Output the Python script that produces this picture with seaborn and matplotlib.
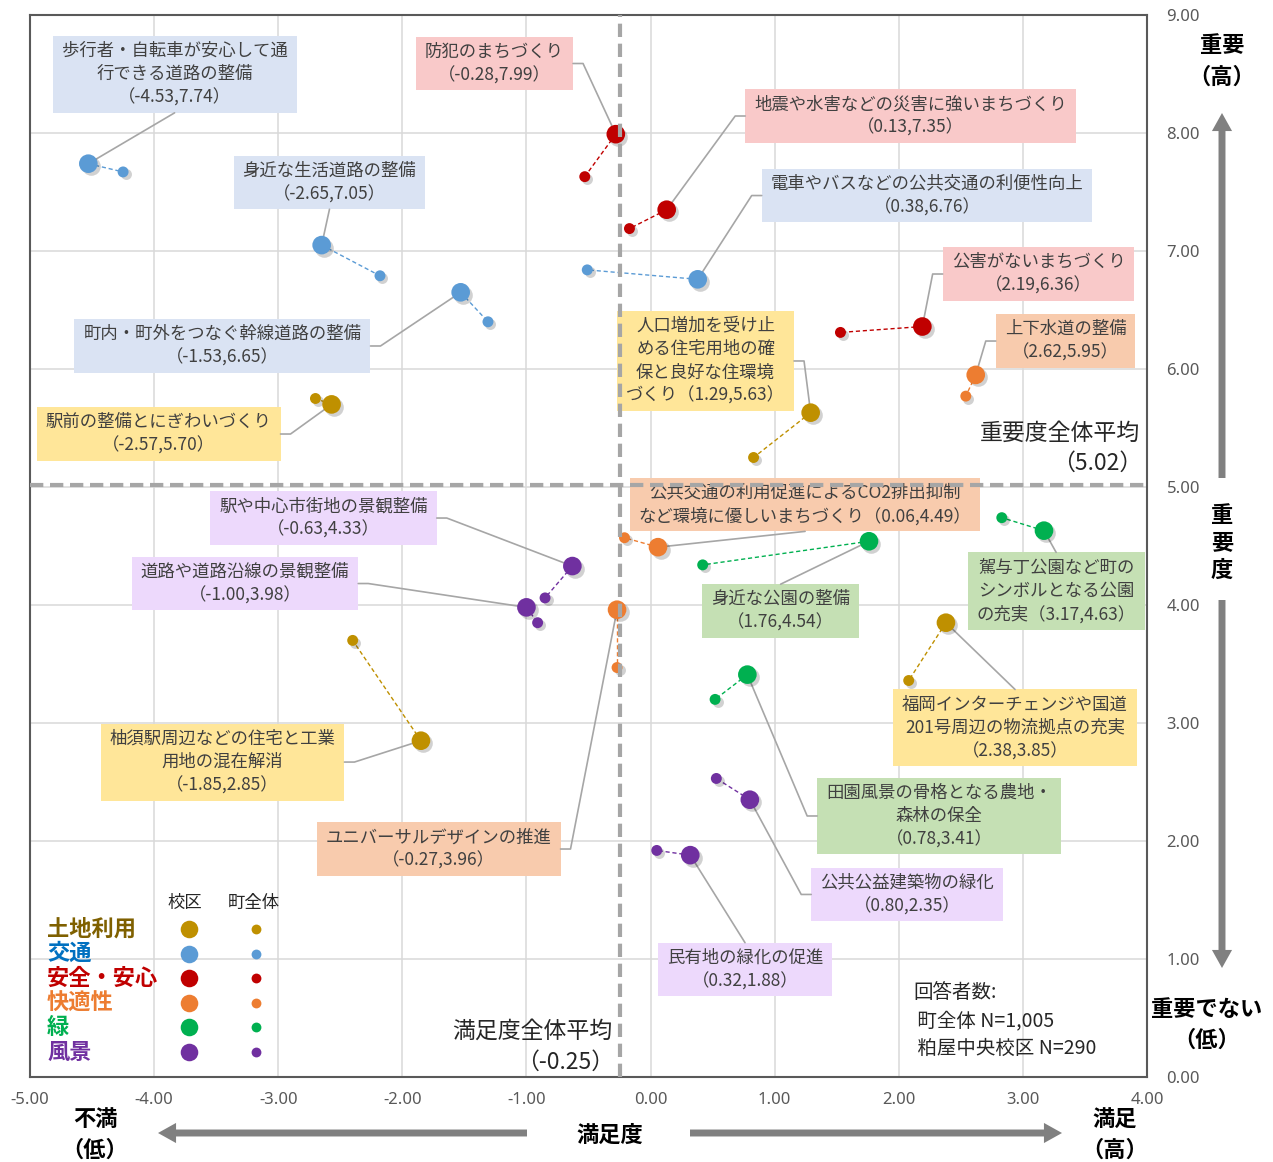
import matplotlib
matplotlib.use('Agg')
import matplotlib.pyplot as plt
import seaborn as sns
import numpy as np
import pandas as pd
from matplotlib import transforms
from matplotlib.patches import Rectangle, FancyArrowPatch
from matplotlib.ticker import StrMethodFormatter

# ---------------- data ----------------
categories = ['土地利用', '交通', '安全・安心', '快適性', '緑', '風景']
cat_colors = ['#BF9000', '#5B9BD5', '#C00000', '#ED7D31', '#00B050', '#7030A0']
legend_text_colors = ['#7F6000', '#0070C0', '#C00000', '#ED7D31', '#00B050', '#7030A0']
box_colors = ['#FFE699', '#DAE3F3', '#F9C9C9', '#F8CBAD', '#C5E0B4', '#EDD9FC']

item_names = [
    '歩行者・自転車が安心して通\n行できる道路の整備',
    '防犯のまちづくり',
    '地震や水害などの災害に強いまちづくり',
    '身近な生活道路の整備',
    '電車やバスなどの公共交通の利便性向上',
    '公害がないまちづくり',
    '町内・町外をつなぐ幹線道路の整備',
    '上下水道の整備',
    '人口増加を受け止\nめる住宅用地の確\n保と良好な住環境\nづくり',
    '駅前の整備とにぎわいづくり',
    '公共交通の利用促進によるCO2排出抑制\nなど環境に優しいまちづくり',
    '駅や中心市街地の景観整備',
    '道路や道路沿線の景観整備',
    '身近な公園の整備',
    '駕与丁公園など町の\nシンボルとなる公園\nの充実',
    'ユニバーサルデザインの推進',
    '福岡インターチェンジや国道\n201号周辺の物流拠点の充実',
    '柚須駅周辺などの住宅と工業\n用地の混在解消',
    '田園風景の骨格となる農地・\n森林の保全',
    '公共公益建築物の緑化',
    '民有地の緑化の促進',
]
coord_on_new_line = [True, True, True, True, True, True, True, True, False, True, False,
                     True, True, True, False, True, True, True, True, True, True]
item_cats = ['交通', '安全・安心', '安全・安心', '交通', '交通', '安全・安心', '交通', '快適性',
             '土地利用', '土地利用', '快適性', '風景', '風景', '緑', '緑', '快適性',
             '土地利用', '土地利用', '緑', '風景', '風景']
school_x = [-4.53, -0.28, 0.13, -2.65, 0.38, 2.19, -1.53, 2.62, 1.29, -2.57, 0.06,
            -0.63, -1.00, 1.76, 3.17, -0.27, 2.38, -1.85, 0.78, 0.80, 0.32]
school_y = [7.74, 7.99, 7.35, 7.05, 6.76, 6.36, 6.65, 5.95, 5.63, 5.70, 4.49,
            4.33, 3.98, 4.54, 4.63, 3.96, 3.85, 2.85, 3.41, 2.35, 1.88]
town_x = [-4.25, -0.53, -0.17, -2.18, -0.51, 1.53, -1.31, 2.54, 0.83, -2.70, -0.21,
          -0.85, -0.91, 0.42, 2.83, -0.27, 2.08, -2.40, 0.52, 0.53, 0.05]
town_y = [7.67, 7.63, 7.19, 6.79, 6.84, 6.31, 6.40, 5.77, 5.25, 5.75, 4.57,
          4.06, 3.85, 4.34, 4.74, 3.47, 3.36, 3.70, 3.20, 2.53, 1.92]
avg_x = -0.25
avg_y = 5.02
x_ticks = [-5, -4, -3, -2, -1, 0, 1, 2, 3, 4]
y_ticks = [0, 1, 2, 3, 4, 5, 6, 7, 8, 9]
respondents = ['回答者数:', ' 町全体 N=1,005', ' 粕屋中央校区 N=290']

# ---------------- layout (label boxes) ----------------
label_cx = [-3.835, -1.257, 2.095, -2.587, 2.228, 3.126, -3.449, 3.344, 0.443, -3.964, 1.245,
            -2.635, -3.268, 1.048, 3.268, -1.708, 2.937, -3.449, 2.325, 2.067, 0.761]
label_cy = [8.497, 8.589, 8.144, 7.581, 7.470, 6.805, 6.195, 6.237, 6.068, 5.449, 4.852,
            4.737, 4.182, 3.949, 4.119, 1.932, 2.958, 2.669, 2.212, 1.547, 0.911]
label_anchor = ['B', 'R', 'L', 'B', 'L', 'L', 'R', 'L', 'R', 'R', 'B',
                'R', 'R', 'T', 'T', 'R', 'T', 'R', 'L', 'L', 'T']

W, H = 1273, 1162
sns.set_theme(style='white')
plt.rcParams['font.family'] = ['Noto Sans CJK JP', 'DejaVu Sans']
plt.rcParams['axes.unicode_minus'] = False

fig = plt.figure(figsize=(W / 100, H / 100), dpi=100)
fig.patch.set_facecolor('white')
ax = fig.add_axes([30 / W, 85 / H, 1117 / W, 1062 / H])
ax.set_facecolor('white')

cmap = dict(zip(categories, cat_colors))
bmap = dict(zip(categories, box_colors))

df = pd.DataFrame({'name': item_names, 'group': item_cats,
                   'sx': school_x, 'sy': school_y, 'tx': town_x, 'ty': town_y})

# connecting dashed lines
for _, r in df.iterrows():
    ax.plot([r['sx'], r['tx']], [r['sy'], r['ty']], ls=(0, (3, 2)), lw=1.0,
            color=cmap[r['group']], zorder=4)

# shadows
shadow = transforms.offset_copy(ax.transData, fig=fig, x=2.5, y=-2.5, units='dots')
ax.scatter(df['sx'], df['sy'], s=180, color='#000000', alpha=0.18, lw=0, transform=shadow, zorder=4.5)
ax.scatter(df['tx'], df['ty'], s=62, color='#000000', alpha=0.18, lw=0, transform=shadow, zorder=4.5)

sns.scatterplot(data=df, x='sx', y='sy', hue='group', palette=cmap, s=180, edgecolor='none',
                legend=False, ax=ax, zorder=5)
sns.scatterplot(data=df, x='tx', y='ty', hue='group', palette=cmap, s=62, edgecolor='none',
                legend=False, ax=ax, zorder=5)
ax.set_xlabel('')
ax.set_ylabel('')

ax.set_xlim(-5, 4)
ax.set_ylim(0, 9)
ax.set_xticks(x_ticks)
ax.set_yticks(y_ticks)
ax.xaxis.set_major_formatter(StrMethodFormatter('{x:.2f}'))
ax.yaxis.set_major_formatter(StrMethodFormatter('{x:.2f}'))
ax.yaxis.tick_right()
ax.tick_params(axis='x', length=0, pad=11, labelsize=12, labelcolor='#595959')
ax.tick_params(axis='y', length=0, pad=14, labelsize=12, labelcolor='#595959')
for lab in ax.get_xticklabels() + ax.get_yticklabels():
    lab.set_family(['Noto Sans', 'DejaVu Sans'])
ax.grid(True, color='#D9D9D9', lw=1.1)
ax.set_axisbelow(True)
for sp in ax.spines.values():
    sp.set_color('#595959')
    sp.set_linewidth(1.5)

# labels
texts = []
for i, r in df.iterrows():
    sep = '\n' if coord_on_new_line[i] else ''
    s = f'{r["name"]}{sep}（{r["sx"]:.2f},{r["sy"]:.2f}）'
    t = ax.text(label_cx[i], label_cy[i], s, ha='center', va='center', multialignment='center',
                fontsize=12.5, color='#404040', linespacing=1.38, zorder=3.5)
    texts.append(t)

fig.canvas.draw()
renderer = fig.canvas.get_renderer()
inv = ax.transData.inverted()
padx, pady = 9, 6
for i, t in enumerate(texts):
    bb = t.get_window_extent(renderer)
    x0, y0, x1, y1 = bb.x0 - padx, bb.y0 - pady, bb.x1 + padx, bb.y1 + pady
    (dx0, dy0), (dx1, dy1) = inv.transform([(x0, y0), (x1, y1)])
    ax.add_patch(Rectangle((dx0, dy0), dx1 - dx0, dy1 - dy0, fc=bmap[item_cats[i]],
                           ec='none', zorder=3))
    px, py = ax.transData.transform((school_x[i], school_y[i]))
    cx, cy = (x0 + x1) / 2, (y0 + y1) / 2
    a = label_anchor[i]
    if a == 'B':
        pts = [(cx, y0), (px, py)]
    elif a == 'T':
        pts = [(cx, y1), (px, py)]
    elif a == 'L':
        pts = [(x0, cy), (x0 - 10, cy), (px, py)]
    else:
        pts = [(x1, cy), (x1 + 10, cy), (px, py)]
    dpts = inv.transform(pts)
    ax.plot(dpts[:, 0], dpts[:, 1], color='#A6A6A6', lw=1.2, zorder=3.8)

# average lines
ax.axvline(avg_x, color='#A6A6A6', lw=3, ls=(0, (3.2, 1.6)), zorder=6)
ax.axhline(avg_y, color='#A6A6A6', lw=3, ls=(0, (3.2, 1.6)), zorder=6)


def fx(x):
    return x / W


def fy(y):
    return 1 - y / H


fig.text(fx(1140), fy(433), '重要度全体平均', ha='right', va='center', fontsize=16.5, color='#262626')
fig.text(fx(1142), fy(463), f'（{avg_y:.2f}）', ha='right', va='center', fontsize=16.5, color='#262626')
fig.text(fx(612), fy(1031), '満足度全体平均', ha='right', va='center', fontsize=16.5, color='#262626')
fig.text(fx(614), fy(1062), f'（{avg_x:.2f}）', ha='right', va='center', fontsize=16.5, color='#262626')

for k, line in enumerate(respondents):
    fig.text(fx(913), fy(993 + 27.5 * k), line, ha='left', va='center', fontsize=14, color='#262626')

# legend
fig.text(fx(185), fy(903), '校区', ha='center', va='center', fontsize=12.5, color='#262626')
fig.text(fx(254), fy(903), '町全体', ha='center', va='center', fontsize=12.5, color='#262626')
for k, (c, col, tcol) in enumerate(zip(categories, cat_colors, legend_text_colors)):
    yy = 929 + 24.6 * k
    fig.text(fx(47), fy(yy), c, ha='left', va='center', fontsize=16, fontweight='bold', color=tcol)
    ax.scatter([fx(189)], [fy(yy)], s=160, color=col, lw=0, transform=fig.transFigure,
               clip_on=False, zorder=7)
    ax.scatter([fx(256)], [fy(yy)], s=50, color=col, lw=0, transform=fig.transFigure,
               clip_on=False, zorder=7)

# outer axis titles
bold = dict(fontsize=16, fontweight='bold', color='#000000', ha='center', va='center')
fig.text(fx(1222), fy(46), '重要', **bold)
fig.text(fx(1222), fy(77), '（高）', **bold)
for k, ch in enumerate('重要度'):
    fig.text(fx(1222), fy(515 + 27.5 * k), ch, **bold)
fig.text(fx(1207), fy(1010), '重要でない', **bold)
fig.text(fx(1207), fy(1040), '（低）', **bold)
fig.text(fx(95), fy(1120), '不満', **bold)
fig.text(fx(95), fy(1150), '（低）', **bold)
fig.text(fx(610), fy(1135), '満足度', **bold)
fig.text(fx(1115), fy(1120), '満足', **bold)
fig.text(fx(1115), fy(1150), '（高）', **bold)

arrow_style = 'simple,head_width=1.45,head_length=1.3,tail_width=0.5'
for (xa, ya), (xb, yb) in [((1222, 478), (1222, 113)), ((1222, 600), (1222, 968)),
                           ((527, 1133), (158, 1133)), ((690, 1133), (1062, 1133))]:
    fig.add_artist(FancyArrowPatch((fx(xa), fy(ya)), (fx(xb), fy(yb)), transform=fig.transFigure,
                                   arrowstyle=arrow_style, mutation_scale=10, color='#808080',
                                   shrinkA=0, shrinkB=0, lw=0))

fig.savefig('out.png', dpi=100, facecolor='white')
